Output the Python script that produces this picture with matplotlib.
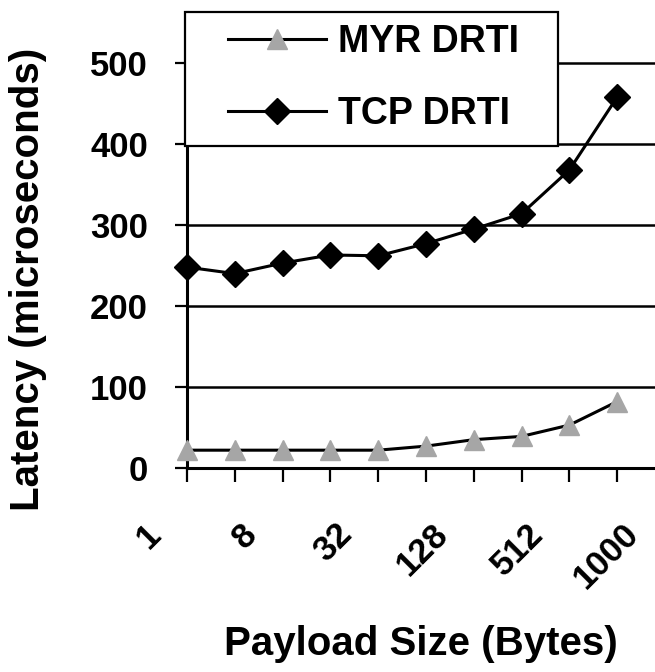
import matplotlib

matplotlib.use('Agg')
import matplotlib.pyplot as plt
from matplotlib.patches import Rectangle
from matplotlib.transforms import ScaledTranslation

# payload sizes (bytes); every other one gets a tick label
sizes = ['1', '4', '8', '16', '32', '64', '128', '256', '512', '768', '1000']
tick_labels = ['1', '', '8', '', '32', '', '128', '', '512', '', '1000']

myr_drti = [22, 22, 22, 22, 22, 27, 35, 39, 53, 82]
tcp_drti = [248, 240, 253, 263, 262, 277, 295, 314, 368, 458]

plt.rcParams['font.family'] = ['Liberation Sans', 'DejaVu Sans']
plt.rcParams['font.weight'] = 'bold'

fig = plt.figure(figsize=(6.55, 6.72), dpi=100)
W, H = 655, 672
# plot area runs past the right edge, the original picture is cropped there
ax = fig.add_axes([187 / W, 1 - 468 / H, (665 - 187) / W, (468 - 12) / H])

x = list(range(len(myr_drti)))
ax.plot(x, myr_drti, color='black', lw=2.2, marker='^', markersize=15,
        markerfacecolor='#a6a6a6', markeredgecolor='#a6a6a6', label='MYR DRTI',
        clip_on=False, zorder=3)
ax.plot(x, tcp_drti, color='black', lw=2.2, marker='D', markersize=13,
        markerfacecolor='black', markeredgecolor='black', label='TCP DRTI',
        clip_on=False, zorder=3)

ax.set_xlim(0, len(sizes) - 1)
ax.set_ylim(0, 563)
ax.set_yticks([0, 100, 200, 300, 400, 500])
ax.set_xticks(range(len(sizes)))
ax.set_xticklabels(tick_labels, rotation=45, ha='right', va='center',
                   rotation_mode='anchor', fontsize=25)
ax.tick_params(axis='y', labelsize=25, length=9, width=1.6, direction='out', pad=19)
ax.tick_params(axis='x', length=10, width=1.6, direction='out', pad=34)
shift = ScaledTranslation(-31 / 100, 0, fig.dpi_scale_trans)
for lab in ax.get_xticklabels():
    lab.set_transform(lab.get_transform() + shift)

ax.yaxis.grid(True, color='black', lw=1.8)
ax.set_axisbelow(True)
for s in ['top', 'right']:
    ax.spines[s].set_visible(False)
for s in ['left', 'bottom']:
    ax.spines[s].set_linewidth(2.2)

fig.text(28 / W, 1 - 279 / H, 'Latency (microseconds)', rotation=90,
         ha='center', va='center', fontsize=29)
fig.text(421 / W, 1 - 655 / H, 'Payload Size (Bytes)', ha='center',
         va='baseline', fontsize=29)

# legend box drawn by hand so the padding can follow the original
fig.patches.append(Rectangle((185 / W, 1 - 146 / H), 373 / W, 134 / H,
                             transform=fig.transFigure, facecolor='white',
                             edgecolor='black', lw=1.6, zorder=4))
handles, labels = ax.get_legend_handles_labels()
fig.legend(handles, labels, loc='upper left', bbox_to_anchor=(228 / W, 1 - 24 / H),
           borderaxespad=0, borderpad=0, frameon=False, fontsize=27,
           handlelength=2.6, handletextpad=0.32, labelspacing=0.95)

plt.savefig('out.png', dpi=100)
